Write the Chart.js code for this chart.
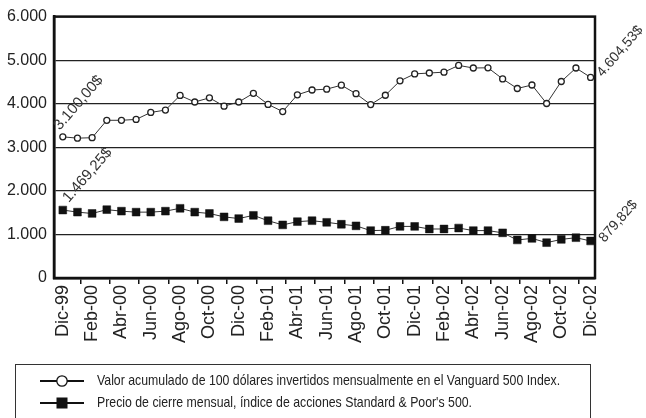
<!DOCTYPE html>
<html lang="es">
<head>
    <meta charset="UTF-8">
    <title>Vanguard 500 vs S&amp;P 500</title>
    <script src="https://cdn.jsdelivr.net/npm/chart.js"></script>
    <style>
        body {
            margin: 0;
            background: #fff;
        }
        #wrap {
            width: 646px;
            height: 418px;
        }
    </style>
</head>
<body>
    <div id="wrap">
        <canvas id="fundChart"></canvas>
    </div>
    <script>
        // meses, dic-99 a dic-02
        const months = [
            'Dic-99', 'Ene-00', 'Feb-00', 'Mar-00', 'Abr-00', 'May-00', 'Jun-00', 'Jul-00', 'Ago-00', 'Sep-00', 'Oct-00', 'Nov-00',
            'Dic-00', 'Ene-01', 'Feb-01', 'Mar-01', 'Abr-01', 'May-01', 'Jun-01', 'Jul-01', 'Ago-01', 'Sep-01', 'Oct-01', 'Nov-01',
            'Dic-01', 'Ene-02', 'Feb-02', 'Mar-02', 'Abr-02', 'May-02', 'Jun-02', 'Jul-02', 'Ago-02', 'Sep-02', 'Oct-02', 'Nov-02',
            'Dic-02'
        ];
        const vanguardValues = [
            3240, 3210, 3220, 3620, 3620, 3640, 3800, 3855, 4190, 4040, 4135, 3945,
            4040, 4240, 3985, 3820, 4205, 4315, 4335, 4425, 4230, 3980, 4195, 4525,
            4685, 4705, 4725, 4880, 4820, 4825, 4570, 4350, 4430, 4005, 4510, 4820,
            4605
        ];
        const sp500Values = [
            1560, 1512, 1481, 1569, 1534, 1512, 1512, 1534, 1600, 1512, 1481, 1403,
            1365, 1438, 1315, 1219, 1293, 1315, 1278, 1234, 1197, 1088, 1096, 1184,
            1184, 1125, 1125, 1147, 1088, 1088, 1037, 873, 909, 811, 886, 925,
            850
        ];
        const seriesNames = [
            'Valor acumulado de 100 dólares invertidos mensualmente en el Vanguard 500 Index.',
            'Precio de cierre mensual, índice de acciones Standard & Poor\'s 500.'
        ];
        const startLabels = ['3.100,00$', '1.469,25$'];
        const endLabels = ['4.604,53$', '879,82$'];
        const yTicks = [0, 1000, 2000, 3000, 4000, 5000, 6000];

        const FONT = "'Liberation Sans', Arial, sans-serif";

        function fmtThousands(v) {
            return String(v).replace(/\B(?=(\d{3})+(?!\d))/g, '.');
        }

        // frame around the plot
        const framePlugin = {
            id: 'frame',
            beforeDatasetsDraw(chart) {
                const {ctx, chartArea: a} = chart;
                ctx.save();
                ctx.strokeStyle = '#111';
                ctx.lineWidth = 2.5;
                ctx.strokeRect(a.left, a.top, a.right - a.left, a.bottom - a.top);
                ctx.restore();
            }
        };

        // boxed legend under the axis, narrow text like the printed one
        const boxLegendPlugin = {
            id: 'boxLegend',
            afterDraw(chart) {
                const ctx = chart.ctx;
                const top = chart.scales.x.bottom - 2;
                ctx.save();
                ctx.strokeStyle = '#333';
                ctx.lineWidth = 1;
                ctx.strokeRect(15.5, top + 0.5, 575, 70);
                chart.data.datasets.forEach((ds, i) => {
                    const y = top + 17 + i * 22;
                    ctx.strokeStyle = '#111';
                    ctx.lineWidth = 2;
                    ctx.beginPath();
                    ctx.moveTo(40, y);
                    ctx.lineTo(84, y);
                    ctx.stroke();
                    if (ds.pointStyle === 'circle') {
                        ctx.beginPath();
                        ctx.arc(62, y, 5.2, 0, Math.PI * 2);
                        ctx.fillStyle = '#fff';
                        ctx.fill();
                        ctx.lineWidth = 1.3;
                        ctx.stroke();
                    } else {
                        ctx.fillStyle = '#111';
                        ctx.fillRect(56.5, y - 5.5, 11, 11);
                    }
                    ctx.save();
                    ctx.translate(97, y);
                    ctx.scale(0.82, 1);
                    ctx.fillStyle = '#222';
                    ctx.font = '15px ' + FONT;
                    ctx.textAlign = 'left';
                    ctx.textBaseline = 'middle';
                    ctx.fillText(ds.label, 0, 0);
                    ctx.restore();
                });
                ctx.restore();
            }
        };

        // first/last value labels, slanted
        const endLabelPlugin = {
            id: 'endLabels',
            afterDatasetsDraw(chart) {
                const ctx = chart.ctx;
                const offsets = [
                    {start: [-3, -6], end: [12, 0]},
                    {start: [6, -7], end: [14, 2]}
                ];
                ctx.save();
                ctx.fillStyle = '#333';
                ctx.textAlign = 'left';
                ctx.textBaseline = 'alphabetic';
                chart.data.datasets.forEach((ds, i) => {
                    const pts = chart.getDatasetMeta(i).data;
                    const first = pts[0];
                    const last = pts[pts.length - 1];
                    [[first, startLabels[i], offsets[i].start, 15], [last, endLabels[i], offsets[i].end, 14]].forEach(([p, txt, off, size]) => {
                        ctx.save();
                        ctx.font = size + 'px ' + FONT;
                        ctx.translate(p.x + off[0], p.y + off[1]);
                        ctx.rotate(-49 * Math.PI / 180);
                        ctx.fillText(txt, 0, 0);
                        ctx.restore();
                    });
                });
                ctx.restore();
            }
        };

        const ctx = document.getElementById('fundChart').getContext('2d');
        new Chart(ctx, {
            type: 'line',
            data: {
                datasets: [{
                    label: seriesNames[0],
                    data: vanguardValues.map((v, i) => ({x: i, y: v})),
                    borderColor: '#333',
                    borderWidth: 1,
                    pointStyle: 'circle',
                    pointRadius: 3,
                    pointBackgroundColor: '#fff',
                    pointBorderColor: '#222',
                    pointBorderWidth: 1.3,
                    tension: 0
                }, {
                    label: seriesNames[1],
                    data: sp500Values.map((v, i) => ({x: i, y: v})),
                    borderColor: '#333',
                    borderWidth: 1,
                    pointStyle: 'rect',
                    pointRadius: 5.5,
                    pointBackgroundColor: '#111',
                    pointBorderColor: '#111',
                    pointBorderWidth: 0.5,
                    tension: 0
                }]
            },
            options: {
                responsive: true,
                maintainAspectRatio: false,
                animation: false,
                layout: {
                    padding: {left: 0, right: 51, top: 14, bottom: 52}
                },
                scales: {
                    x: {
                        type: 'linear',
                        min: -0.6,
                        max: 36.3,
                        afterFit(scale) {
                            scale.height = 88;
                        },
                        afterBuildTicks(scale) {
                            const t = [];
                            for (let i = 0; i < months.length; i++) {
                                if (i % 2 === 0) t.push({value: i});
                                else t.push({value: i + 0.2});
                            }
                            scale.ticks = t;
                        },
                        grid: {
                            display: true,
                            drawOnChartArea: false,
                            drawTicks: true,
                            tickLength: 6,
                            lineWidth: 1.5,
                            tickColor: (c) => (c.tick && Number.isInteger(c.tick.value) && c.tick.value % 2 === 0) ? 'rgba(0,0,0,0)' : '#111'
                        },
                        border: {display: true, color: '#111', width: 2.5},
                        ticks: {
                            autoSkip: false,
                            minRotation: 90,
                            maxRotation: 90,
                            padding: 1,
                            color: '#222',
                            font: {family: FONT, size: 18},
                            callback: (v) => Number.isInteger(v) && v % 2 === 0 ? months[v] : ''
                        }
                    },
                    y: {
                        min: 0,
                        max: 6000,
                        afterFit(scale) {
                            scale.width = 54;
                        },
                        afterBuildTicks(scale) {
                            scale.ticks = yTicks.map(v => ({value: v}));
                        },
                        grid: {
                            color: '#222',
                            lineWidth: 1.3,
                            drawTicks: false
                        },
                        border: {display: true, color: '#111', width: 2.5},
                        ticks: {
                            padding: 7,
                            color: '#222',
                            font: {family: FONT, size: 16},
                            callback: (v) => fmtThousands(v)
                        }
                    }
                },
                plugins: {
                    tooltip: {enabled: false},
                    legend: {display: false}
                }
            },
            plugins: [framePlugin, endLabelPlugin, boxLegendPlugin]
        });
    </script>
</body>
</html>
